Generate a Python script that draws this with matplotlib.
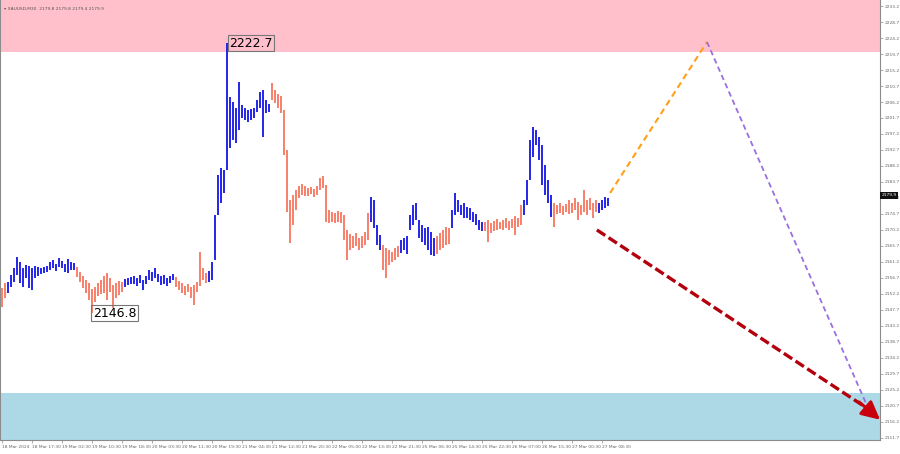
import matplotlib.pyplot as plt
from matplotlib.transforms import blended_transform_factory

# wave chart data (XAUUSD M30), one bar every 3 px of the reference
highs = [
    2153.9, 2155.3, 2155.6, 2157.6, 2159.5, 2162.6, 2161.2, 2159.5, 2160.4, 2160.1,
    2159.5, 2160.1, 2159.8, 2159.5, 2159.8, 2160.1, 2161.2, 2161.8, 2160.6, 2162.3,
    2161.5, 2160.6, 2162.1, 2161.2, 2160.9, 2159.8, 2158.4, 2157.3, 2156.1, 2155.3,
    2153.6, 2154.2, 2155.3, 2156.1, 2157.3, 2158.1, 2156.7, 2154.7, 2155.3, 2155.9,
    2155.6, 2156.4, 2156.7, 2157.0, 2157.3, 2156.7, 2157.6, 2156.1, 2157.3, 2159.0,
    2158.4, 2159.5, 2157.8, 2157.3, 2157.6, 2156.7, 2157.3, 2157.8, 2157.0, 2155.9,
    2155.3, 2154.5, 2155.0, 2154.2, 2154.7, 2155.6, 2164.0, 2159.5, 2158.1, 2158.7,
    2161.2, 2174.4, 2185.7, 2187.6, 2187.1, 2222.7, 2207.6, 2206.2, 2204.5, 2211.8,
    2205.4, 2204.5, 2204.0, 2204.2, 2204.5, 2206.8, 2209.0, 2209.6, 2206.8, 2205.6,
    2211.5, 2209.6, 2208.5, 2207.9, 2204.0, 2192.7, 2178.6, 2180.1, 2181.5, 2182.6,
    2183.1, 2182.6, 2182.0, 2182.3, 2181.7, 2182.6, 2184.8, 2185.4, 2182.9, 2175.8,
    2175.3, 2175.0, 2175.5, 2175.3, 2174.4, 2170.2, 2169.1, 2168.5, 2169.4, 2168.0,
    2168.5, 2169.6, 2175.0, 2179.5, 2178.6, 2171.6, 2168.8, 2166.0, 2165.1, 2164.6,
    2164.0, 2165.1, 2165.7, 2167.4, 2168.0, 2168.5, 2174.4, 2177.2, 2177.8, 2173.0,
    2171.6, 2170.8, 2171.0, 2169.6, 2168.0, 2168.5, 2169.4, 2170.2, 2171.0, 2170.8,
    2175.8, 2180.6, 2178.6, 2177.2, 2177.8, 2176.7, 2176.4, 2175.3, 2174.7, 2173.0,
    2172.5, 2172.5, 2173.0, 2172.2, 2172.7, 2173.3, 2172.5, 2173.0, 2173.6, 2172.7,
    2173.3, 2174.1, 2173.6, 2177.2, 2178.6, 2184.3, 2195.5, 2199.2, 2198.3, 2196.4,
    2194.1, 2188.5, 2184.3, 2180.1, 2177.8, 2177.2, 2177.8, 2177.0, 2177.5, 2178.6,
    2177.8, 2179.2, 2178.1, 2177.2, 2181.5, 2178.6, 2179.2, 2177.8, 2178.6, 2177.8,
    2178.6, 2179.5, 2179.2,
]
lows = [
    2148.5, 2151.1, 2152.5, 2154.2, 2155.6, 2157.6, 2155.3, 2154.2, 2156.7, 2153.9,
    2153.3, 2156.7, 2157.3, 2157.8, 2158.1, 2158.4, 2159.0, 2159.5, 2158.7, 2159.8,
    2159.5, 2158.4, 2158.1, 2159.0, 2159.0, 2157.0, 2155.6, 2153.9, 2152.5, 2150.5,
    2146.8, 2150.0, 2151.6, 2152.2, 2152.5, 2150.5, 2152.8, 2148.3, 2151.1, 2151.9,
    2152.8, 2154.2, 2154.7, 2155.0, 2155.0, 2154.5, 2155.3, 2153.3, 2155.0, 2156.1,
    2155.9, 2156.7, 2155.6, 2154.7, 2155.0, 2154.5, 2155.3, 2156.1, 2154.2, 2153.3,
    2152.5, 2151.9, 2152.8, 2151.1, 2149.1, 2152.8, 2154.5, 2156.1, 2155.3, 2155.6,
    2156.1, 2161.8, 2174.4, 2177.8, 2180.6, 2187.1, 2193.3, 2195.5, 2194.7, 2198.3,
    2201.7, 2201.1, 2200.6, 2201.1, 2201.7, 2203.4, 2204.5, 2196.4, 2203.1, 2203.4,
    2206.8, 2205.9, 2204.5, 2203.1, 2191.3, 2175.3, 2166.6, 2171.6, 2175.8, 2179.2,
    2180.1, 2179.8, 2179.8, 2180.3, 2179.5, 2180.1, 2181.5, 2182.0, 2172.5, 2172.2,
    2172.5, 2172.2, 2172.5, 2172.2, 2167.4, 2161.8, 2164.6, 2165.1, 2165.7, 2164.6,
    2165.1, 2166.0, 2167.4, 2172.5, 2170.8, 2166.0, 2164.6, 2159.0, 2156.7, 2160.4,
    2161.2, 2161.8, 2162.6, 2163.7, 2164.6, 2163.5, 2170.2, 2171.6, 2173.0, 2168.0,
    2166.8, 2166.0, 2164.6, 2163.2, 2162.9, 2163.5, 2164.6, 2165.1, 2166.0, 2166.3,
    2170.8, 2174.4, 2175.3, 2174.4, 2173.6, 2173.6, 2173.0, 2172.5, 2171.6, 2170.2,
    2169.9, 2169.9, 2166.8, 2169.4, 2169.9, 2170.2, 2170.5, 2170.2, 2170.8, 2170.2,
    2170.8, 2168.8, 2171.0, 2171.6, 2174.4, 2177.2, 2184.3, 2190.7, 2194.1, 2189.9,
    2182.9, 2180.1, 2177.8, 2173.9, 2171.0, 2174.7, 2175.0, 2174.4, 2175.3, 2174.7,
    2175.0, 2175.8, 2173.0, 2174.4, 2175.3, 2174.4, 2175.8, 2173.6, 2175.3, 2175.0,
    2175.8, 2176.4, 2177.0,
]
# first bar of each wave segment (segments alternate salmon / blue)
wave_starts = [0, 2, 25, 41, 58, 69, 90, 123, 127, 133, 145, 150, 161, 174, 184, 199]

time_labels = [
    "18 Mar 2024", "18 Mar 17:30", "19 Mar 02:30", "19 Mar 10:30", "19 Mar 18:30",
    "20 Mar 03:30", "20 Mar 11:30", "20 Mar 19:30", "21 Mar 04:30", "21 Mar 12:30",
    "21 Mar 20:30", "22 Mar 05:00", "22 Mar 13:30", "22 Mar 21:30", "25 Mar 06:30",
    "25 Mar 14:30", "25 Mar 22:30", "26 Mar 07:00", "26 Mar 15:30", "27 Mar 00:30",
    "27 Mar 08:30",
]
price_ticks = [2233.2 - 4.5 * k for k in range(28)]

resistance = 2220.3
support = 2124.4
last_price = 2179.9
peak_idx, peak_val = 75, 2222.7
trough_idx, trough_val = 30, 2146.8

# forecast paths (bar index, price)
up_path = ([202.7, 235.0], [2180.6, 2223.1])
down_path = ([235.0, 288.7], [2223.1, 2120.1])
main_path = ([198.3, 292.7], [2170.2, 2116.8])

fig = plt.figure(figsize=(9, 4.54), dpi=100)
ax = fig.add_axes([0, 14 / 454, 880 / 900, 440 / 454])
ymin, ymax = 2111.1, 2234.9
ax.set_xlim(-0.67, 292.67)
ax.set_ylim(ymin, ymax)

ax.axhspan(resistance, ymax, color="#ffc0cb", lw=0, zorder=0)
ax.axhspan(ymin, support, color="#add8e6", lw=0, zorder=0)

bounds = wave_starts + [len(highs)]
for k in range(len(wave_starts)):
    a, b = bounds[k], bounds[k + 1]
    col = "#f77b66" if k % 2 == 0 else "#1c1ce8"
    ax.vlines(range(a, b), lows[a:b], highs[a:b], colors=col, lw=1.35, zorder=3)

# labels on extremes
box = dict(boxstyle="square,pad=0.12", fc="none", ec="#777777", lw=0.8)
ax.text(peak_idx + 0.7, peak_val, "2222.7", fontsize=9, va="center", ha="left",
        bbox=box, zorder=5)
ax.text(trough_idx + 0.3, trough_val, "2146.8", fontsize=9, va="center", ha="left",
        bbox=box, zorder=5)

# forecast lines
ax.plot(*up_path, color="#ff9f1a", lw=1.5, ls=(0, (3, 2)), zorder=4)
ax.plot(*down_path, color="#9a6fe0", lw=1.3, ls=(0, (3, 2)), zorder=4)
ax.plot(main_path[0][:1] + [main_path[0][1] - 5], [main_path[1][0], main_path[1][1] + 3.6],
        color="#b3000c", lw=2.4, ls=(0, (3, 1.2)), zorder=4)
ax.annotate("", xy=(main_path[0][1], main_path[1][1]),
            xytext=(main_path[0][1] - 7, main_path[1][1] + 5.0),
            arrowprops=dict(arrowstyle="-|>,head_length=1.1,head_width=0.55",
                            color="#c8000e", lw=2.2, shrinkA=0, shrinkB=0), zorder=4)

# axes look
ax.spines["top"].set_visible(False)
for s in ["left", "right", "bottom"]:
    ax.spines[s].set_color("#8c8c8c")
    ax.spines[s].set_linewidth(0.8)

ax.yaxis.tick_right()
ax.set_yticks(price_ticks)
ax.set_yticklabels([f"{p:.1f}" for p in price_ticks])
ax.tick_params(axis="y", labelsize=3.2, labelcolor="#666666", color="#8c8c8c",
               length=2, width=0.5, pad=1.5)

ax.set_xticks(range(0, 10 * len(time_labels), 10))
ax.set_xticklabels(time_labels, ha="left")
ax.tick_params(axis="x", labelsize=3.2, labelcolor="#666666", color="#8c8c8c",
               length=2, width=0.5, pad=1.5)

tr = blended_transform_factory(ax.transAxes, ax.transData)
ax.text(1.002, last_price, "2179.9", transform=tr, fontsize=3.2, color="white",
        va="center", ha="left",
        bbox=dict(boxstyle="square,pad=0.3", fc="#111111", ec="none"), zorder=6)

ax.text(0.004, 0.985, "\u25be XAUUSD,M30  2179.8 2179.8 2179.4 2179.9",
        transform=ax.transAxes, fontsize=3.2, color="#555555", va="top", ha="left")

fig.savefig("out.png", dpi=100, facecolor="white")
